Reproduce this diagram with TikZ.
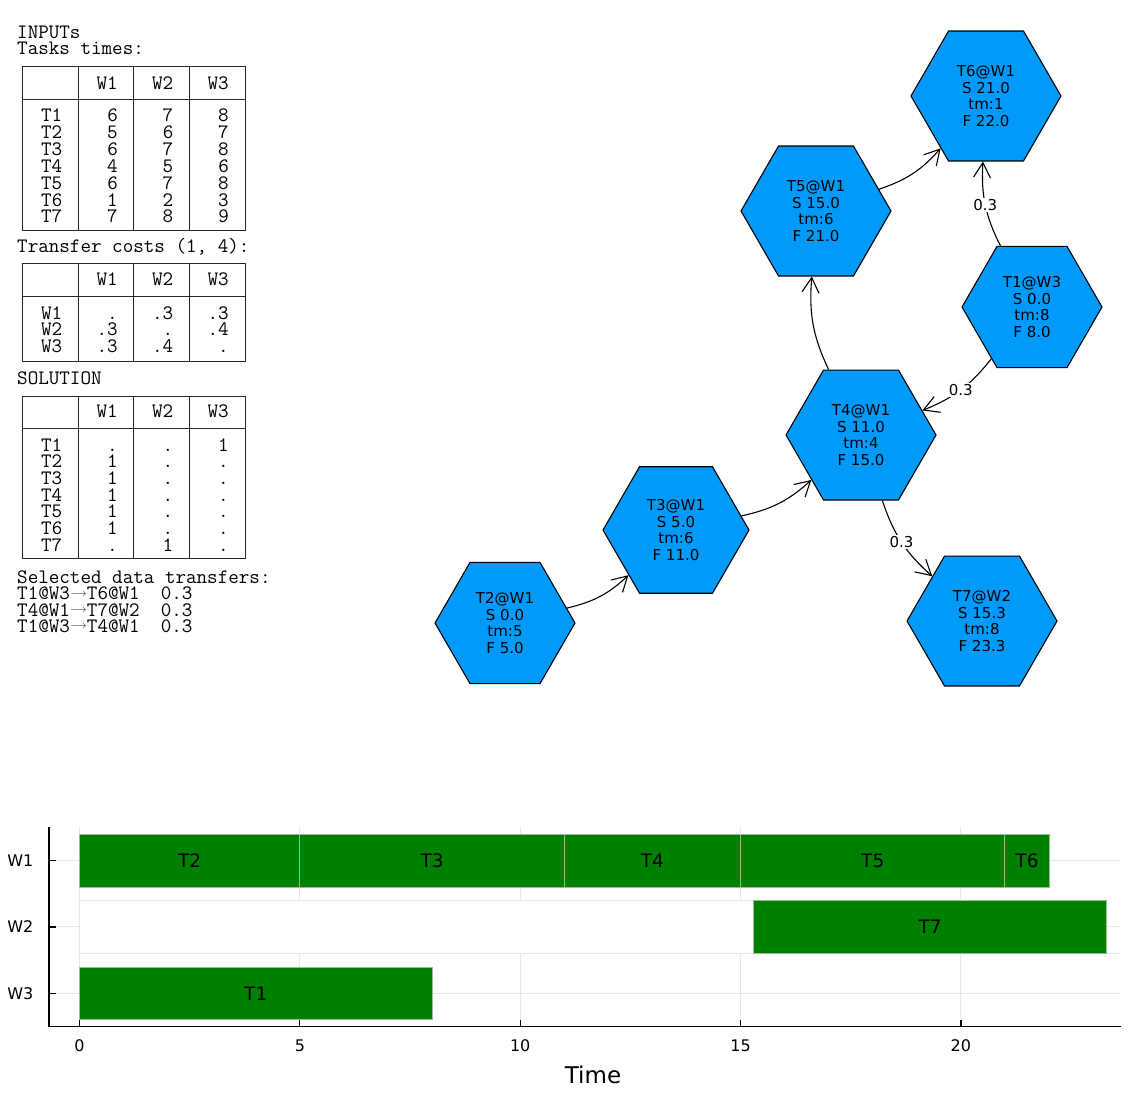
\documentclass[tikz,border=0pt]{standalone}
\usepackage{fontspec}
\usepackage{graphicx}
\usepackage{tikz}
\usetikzlibrary{arrows.meta,shapes.geometric,positioning}
\newfontfamily\dejavu{DejaVu Sans}
\definecolor{hexblue}{RGB}{0,154,250}
\definecolor{barfill}{RGB}{0,128,0}
\definecolor{baredge}{RGB}{150,190,150}
\definecolor{gridgray}{RGB}{232,232,232}
\newcommand{\xferarrow}{\makebox[17pt]{\raisebox{3.5pt}{\resizebox{16pt}{!}{$\longrightarrow$}}}}

\begin{document}
\begin{tikzpicture}[x=1pt, y=1pt,
  mono/.style={font=\ttfamily\fontsize{20.5}{20}\selectfont, inner sep=0pt, text height=11pt, text depth=2pt, anchor=base west},
  cell/.style={font=\ttfamily\fontsize{20.5}{20}\selectfont, inner sep=0pt, text height=11pt, text depth=2pt, anchor=base east},
  rule/.style={line width=0.8pt, black!85},
  hex/.style={draw, fill=hexblue, regular polygon, regular polygon sides=6, inner sep=0pt, line width=1.1pt, align=center, font=\dejavu\fontsize{15}{16.5}\selectfont, minimum size=150pt},
  flow/.style={-{Straight Barb[length=15pt,width=17pt]}, line width=1.1pt},
  weight/.style={fill=white, inner sep=1.5pt, font=\dejavu\fontsize{15}{15}\selectfont},
  gridline/.style={gridgray, line width=1pt},
  bar/.style={draw=baredge, fill=barfill, line width=1pt, minimum height=52.6pt, inner sep=0pt, font=\dejavu\fontsize{18.5}{18.5}\selectfont},
  tick/.style={font=\dejavu\fontsize{16}{16}\selectfont, inner sep=0pt}]

  \fill[white] (0,0) rectangle (1142,-1108);
  \useasboundingbox (0,0) rectangle (1142,-1108);

  \node[mono] (inputs) at (17,-39) {INPUTs};
  \node[mono] (timestitle) at (17,-55) {Tasks times:};
  \node[mono] (coststitle) at (17,-252.5) {Transfer costs (1, 4):};
  \node[mono] (solution) at (17,-384.5) {SOLUTION};
  \node[mono] (selected) at (17,-583) {Selected data transfers:};
  \node[mono] (xfer1) at (17,-599.5) {T1@W3\xferarrow T6@W1\ \ 0.3};
  \node[mono] (xfer2) at (17,-616) {T4@W1\xferarrow T7@W2\ \ 0.3};
  \node[mono] (xfer3) at (17,-632) {T1@W3\xferarrow T4@W1\ \ 0.3};

  \foreach \ya/\yb/\yc in {66/99/230, 263.5/296/361.7, 396/428/558} {
    \draw[rule] (22.5,-\ya) rectangle (245.5,-\yc);
    \draw[rule] (22.5,-\yb) -- (245.5,-\yb);
    \foreach \x in {78.3,133.5,189.5} \draw[rule] (\x,-\ya) -- (\x,-\yc);
  }
  \foreach \w [count=\j] in {W1,W2,W3} {
    \node[cell] (times-h\j) at ({62.5+55.5*\j},-89) {\w};
    \node[cell] (costs-h\j) at ({62.5+55.5*\j},-285.5) {\w};
    \node[cell] (sol-h\j) at ({62.5+55.5*\j},-417.5) {\w};
  }
  \foreach \task/\a/\b/\c [count=\i] in {T1/6/7/8, T2/5/6/7, T3/6/7/8, T4/4/5/6, T5/6/7/8, T6/1/2/3, T7/7/8/9} {
    \node[cell] (times-\i-0) at (62.5,{-121.5-16.9*(\i-1)}) {\task};
    \node[cell] (times-\i-1) at (118,{-121.5-16.9*(\i-1)}) {\a};
    \node[cell] (times-\i-2) at (173.5,{-121.5-16.9*(\i-1)}) {\b};
    \node[cell] (times-\i-3) at (229,{-121.5-16.9*(\i-1)}) {\c};
  }
  \foreach \wk/\a/\b/\c [count=\i] in {W1/./.3/.3, W2/.3/./.4, W3/.3/.4/.} {
    \node[cell] (costs-\i-0) at (62.5,{-319-16.5*(\i-1)}) {\wk};
    \node[cell] (costs-\i-1) at (118,{-319-16.5*(\i-1)}) {\a};
    \node[cell] (costs-\i-2) at (173.5,{-319-16.5*(\i-1)}) {\b};
    \node[cell] (costs-\i-3) at (229,{-319-16.5*(\i-1)}) {\c};
  }
  \foreach \task/\a/\b/\c [count=\i] in {T1/././1, T2/1/./., T3/1/./., T4/1/./., T5/1/./., T6/1/./., T7/./1/.} {
    \node[cell] (sol-\i-0) at (62.5,{-451-16.67*(\i-1)}) {\task};
    \node[cell] (sol-\i-1) at (118,{-451-16.67*(\i-1)}) {\a};
    \node[cell] (sol-\i-2) at (173.5,{-451-16.67*(\i-1)}) {\b};
    \node[cell] (sol-\i-3) at (229,{-451-16.67*(\i-1)}) {\c};
  }

  \node[hex, minimum size=140pt] (t2) at (505,-623) {T2@W1\\S 0.0\\tm:5\\F 5.0};
  \node[hex, minimum size=146pt] (t3) at (676,-530) {T3@W1\\S 5.0\\tm:6\\F 11.0};
  \node[hex] (t4) at (861,-435) {T4@W1\\S 11.0\\tm:4\\F 15.0};
  \node[hex] (t5) at (816,-211) {T5@W1\\S 15.0\\tm:6\\F 21.0};
  \node[hex] (t6) at (986,-96) {T6@W1\\S 21.0\\tm:1\\F 22.0};
  \node[hex, minimum size=140pt] (t1) at (1032,-307) {T1@W3\\S 0.0\\tm:8\\F 8.0};
  \node[hex] (t7) at (982,-621) {T7@W2\\S 15.3\\tm:8\\F 23.3};

  \draw[flow] (t2) to[bend right=15] (t3);
  \draw[flow] (t3) to[bend right=15] (t4);
  \draw[flow] (t4) to[bend left=15] (t5);
  \draw[flow] (t5) to[bend right=15] (t6);
  \draw[flow] (t1) to[bend left=15] node[weight] {0.3} (t6);
  \draw[flow] (t1) to[bend left=15] node[weight] {0.3} (t4);
  \draw[flow] (t4) to[bend right=15] node[weight] {0.3} (t7);

  \foreach \s in {0,5,...,20} \draw[gridline] ({79.5+44.07*\s},-827) -- ({79.5+44.07*\s},-1026);
  \foreach \y in {860.7,926.7,993.3} \draw[gridline] (49,-\y) -- (1121,-\y);
  \draw[gridline] (79.5,-953.3) -- (1121,-953.3);
  \fill[white] (79.5,-900.7) rectangle ({79.5+44.07*15.3},-953.3);
  \draw[gridline] (79.5,-900.7) -- ({79.5+44.07*15.3},-900.7);
  \foreach \task/\s/\f/\row in {T2/0/5/1, T3/5/11/1, T4/11/15/1, T5/15/21/1, T6/21/22/1, T7/15.3/23.3/2, T1/0/8/3}
    \node[bar, minimum width={(\f-\s)*44.07pt}] (bar-\task) at ({79.5+44.07*(\s+\f)/2},{-860.7-66.3*(\row-1)}) {\task};

  \draw[line width=1.5pt] (49,-827) -- (49,-1026.5) -- (1121,-1026.5);
  \foreach \s in {0,5,...,20} {
    \draw[line width=1.2pt] ({79.5+44.07*\s},-1026.5) -- ({79.5+44.07*\s},-1019.5);
    \node[tick] (xt-\s) at ({79.5+44.07*\s},-1046) {\s};
  }
  \foreach \w [count=\k] in {W1,W2,W3} {
    \draw[line width=1.2pt] (49,{-860.7-66.3*(\k-1)}) -- (56,{-860.7-66.3*(\k-1)});
    \node[tick, anchor=east] (yt-\w) at (33.5,{-860.7-66.3*(\k-1)}) {\w};
  }
  \node[font=\dejavu\fontsize{23}{23}\selectfont] (timelabel) at (593,-1075) {Time};
\end{tikzpicture}
\end{document}
